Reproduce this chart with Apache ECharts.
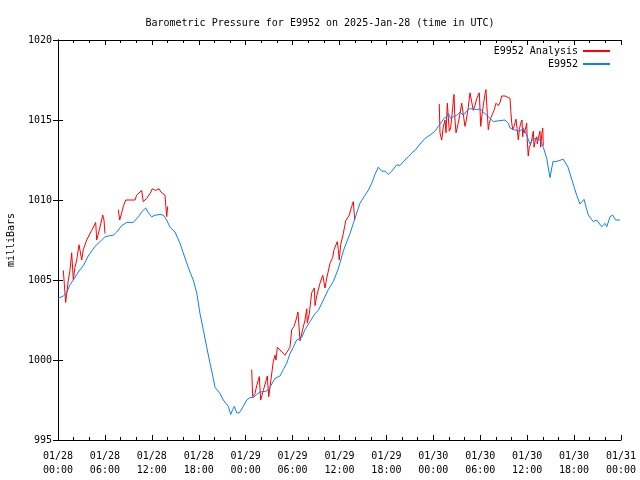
<!DOCTYPE html>
<html><head><meta charset="utf-8">
<script src="https://cdn.jsdelivr.net/npm/echarts@6/dist/echarts.min.js"></script>
<style>html,body{margin:0;padding:0;background:#fff}#c{width:640px;height:480px}</style>
</head><body><div id="c"></div>
<script>
// Hours since 2025-01-28 00:00 UTC
const seriesNames = ['E9952 Analysis', 'E9952'];
const yTicks = [995, 1000, 1005, 1010, 1015, 1020];

const stationHours = [0,0.68,0.9,1.11,1.53,1.96,2.6,3.24,3.87,4.73,5.59,6.01,6.43,7.07,7.51,8.15,8.79,9.63,10.27,10.78,11.22,11.55,11.98,12.41,13.04,13.47,13.9,14.32,14.96,15.6,16.15,16.88,17.3,17.74,18.16,18.58,19.02,19.44,19.86,20.08,20.3,20.72,21.14,21.78,22.09,22.34,22.55,22.85,23.19,23.7,24.13,24.55,24.97,25.41,25.83,26.69,27.11,27.75,28.39,28.81,29.25,29.67,30.09,30.52,31.17,31.59,32.23,32.87,33.29,33.93,34.57,35.2,35.85,36.49,36.7,37.34,37.98,38.62,39.26,39.68,40.12,40.54,40.96,41.4,41.82,42.24,42.68,43.32,43.74,44.16,44.8,45.36,45.66,46.3,46.94,47.58,48.21,48.64,49.07,49.37,49.71,49.92,50.22,50.55,50.99,51.41,51.83,52.34,52.6,53.11,53.55,53.97,54.39,54.83,55.25,55.67,56.31,57.17,57.59,57.81,58.23,59.08,59.51,59.94,60.36,60.79,61.22,61.64,62.06,62.5,62.92,63.3,63.69,64.62,65.22,65.99,66.33,66.76,67.27,67.62,67.82,68.46,68.9,69.53,69.96,70.18,70.6,70.94,71.32,71.87];
const stationPressure = [1003.85,1004.0,1003.9,1004.2,1004.7,1005.0,1005.5,1005.9,1006.5,1007.1,1007.5,1007.7,1007.75,1007.8,1008.0,1008.4,1008.6,1008.6,1008.95,1009.3,1009.5,1009.2,1008.95,1009.05,1009.1,1009.05,1008.75,1008.3,1008.0,1007.3,1006.5,1005.5,1005.0,1004.2,1002.9,1001.9,1000.8,999.8,998.85,998.3,998.4,997.9,997.5,997.1,996.6,996.9,997.1,996.7,996.7,997.1,997.5,997.65,997.65,997.85,998.0,998.06,998.3,998.85,999.0,999.4,999.8,1000.4,1000.8,1001.25,1001.4,1001.9,1002.4,1002.9,1003.1,1003.75,1004.4,1004.9,1005.7,1006.8,1007.1,1007.9,1008.85,1009.8,1010.3,1010.6,1011.05,1011.6,1012.05,1011.8,1011.8,1011.6,1011.8,1012.2,1012.15,1012.4,1012.7,1013.0,1013.1,1013.5,1013.85,1014.06,1014.3,1014.6,1014.9,1015.1,1015.2,1015.4,1015.1,1015.2,1015.3,1015.5,1015.3,1015.6,1015.7,1015.7,1015.65,1015.7,1015.5,1015.3,1015.1,1014.9,1014.95,1015.0,1014.8,1014.5,1014.4,1014.3,1014.5,1014.06,1013.5,1013.85,1013.85,1013.75,1013.3,1012.6,1011.4,1012.4,1012.4,1012.55,1012.06,1010.83,1010.3,1009.75,1010.04,1009.4,1009.06,1008.65,1008.75,1008.33,1008.54,1008.33,1008.96,1009.06,1008.75,1008.75];

// null pressure = gap in the analysis record
const analysisHours = [0.68,0.98,1.32,1.53,1.75,1.96,2.17,2.39,2.69,2.94,3.03,3.24,3.67,3.87,4.31,4.82,4.95,5.37,5.72,5.88,6.01,
  6.8,
  7.71,7.89,8.15,8.35,8.66,9.85,10.06,10.7,10.91,11.34,11.77,12.06,12.49,12.92,13.17,13.68,13.9,14.03,
  19.0,
  24.77,24.9,25.19,25.41,25.74,25.92,26.26,26.77,26.95,27.11,27.53,27.75,27.88,28.05,29.03,29.25,29.67,29.89,30.18,30.44,30.69,30.95,31.29,31.59,31.81,31.88,32.14,32.44,32.78,32.87,33.08,33.51,33.85,34.15,34.36,34.79,35.13,35.3,35.72,35.85,35.97,36.15,36.49,36.67,36.79,37.0,37.25,37.56,37.77,37.86,37.95,
  43.0,
  48.76,48.85,49.07,49.28,49.49,49.62,49.79,49.92,50.04,50.22,50.48,50.64,50.77,50.9,51.19,51.41,51.63,51.83,52.05,52.18,52.47,52.69,52.9,53.11,53.33,53.55,53.88,54.06,54.19,54.39,54.6,54.73,54.9,55.03,55.16,55.33,55.59,55.76,56.02,56.31,56.53,56.74,57.17,57.81,57.9,58.03,58.16,58.32,58.57,58.74,58.87,59.0,59.17,59.34,59.43,59.51,59.63,59.81,59.94,60.01,60.14,60.27,60.45,60.58,60.79,60.88,61.0,61.22,61.3,61.42,61.64,61.73,61.86,61.99,62.06];
const analysisPressure = [1005.6,1003.6,1005.0,1005.6,1006.7,1005.0,1005.8,1006.25,1007.2,1007.2,1006.25,1006.9,1007.5,1007.6,1008.1,1008.6,1007.5,1008.3,1009.06,1008.75,1007.9,
  null,
  1009.4,1008.75,1009.2,1009.6,1010.0,1010.0,1010.3,1010.6,1009.9,1010.1,1010.4,1010.7,1010.6,1010.7,1010.5,1010.3,1008.96,1009.6,
  null,
  999.4,997.7,997.9,998.4,998.96,997.5,998.1,999.0,997.7,998.3,999.9,1000.3,1000.0,1000.8,1000.3,1000.2,1000.8,1001.9,1002.1,1002.5,1003.0,1001.2,1001.9,1002.5,1003.2,1002.3,1002.9,1004.2,1004.5,1003.4,1004.0,1004.8,1005.3,1004.5,1005.1,1006.05,1006.4,1006.9,1007.4,1006.9,1006.25,1007.2,1007.9,1008.4,1008.7,1008.6,1009.06,1009.6,1009.9,1009.3,1008.75,
  null,
  1016.0,1014.2,1013.75,1014.6,1015.0,1014.2,1016.05,1016.05,1014.3,1014.5,1015.8,1016.6,1015.0,1014.2,1014.8,1015.4,1016.05,1016.05,1014.6,1014.9,1015.8,1016.7,1016.7,1015.6,1015.9,1016.35,1016.7,1014.6,1015.2,1015.9,1016.6,1016.9,1015.4,1014.4,1014.8,1015.1,1015.4,1015.6,1016.05,1015.9,1016.1,1016.5,1016.5,1016.35,1015.6,1014.8,1014.4,1014.6,1015.05,1015.1,1013.75,1014.4,1014.8,1015.0,1013.95,1014.4,1014.2,1014.5,1014.8,1013.75,1012.75,1013.3,1013.5,1013.75,1014.3,1013.3,1013.65,1013.95,1013.5,1013.85,1014.3,1013.3,1014.06,1014.5,1013.4];

const FONT = '"DejaVu Sans Mono", "Liberation Mono", monospace';
const pad = n => (n < 10 ? '0' : '') + n;
function timeLabel(v) {
  const day = 28 + Math.floor(v / 24);
  const hr = Math.round(v % 24);
  return '01/' + pad(day) + '\n' + pad(hr) + ':00';
}
const stationData = stationHours.map((h, i) => [h, stationPressure[i]]);
const analysisData = analysisHours.map((h, i) => [h, analysisPressure[i] === null ? '-' : analysisPressure[i]]);

const chart = echarts.init(document.getElementById('c'), null, {renderer: 'canvas'});
const axisLine = {show: true, lineStyle: {color: '#000', width: 1}};
chart.setOption({
  animation: false,
  backgroundColor: '#fff',
  title: {
    text: 'Barometric Pressure for E9952 on 2025-Jan-28 (time in UTC)',
    left: 'center', top: 13,
    textStyle: {fontFamily: FONT, fontSize: 10, fontWeight: 'normal', color: '#000'}
  },
  legend: {
    orient: 'vertical', right: 25, top: 41, align: 'right',
    itemWidth: 27, itemHeight: 2, itemGap: 3,
    textStyle: {fontFamily: FONT, fontSize: 10, color: '#000'},
    data: [{name: seriesNames[0], icon: 'rect'}, {name: seriesNames[1], icon: 'rect'}]
  },
  grid: {left: 58, right: 19, top: 40, bottom: 40, containLabel: false, outerBoundsMode: 'none'},
  xAxis: [{
    type: 'value', min: 0, max: 72, interval: 6, position: 'bottom',
    axisLine: axisLine,
    axisTick: {show: true, inside: true, length: 5, lineStyle: {color: '#000'}},
    minorTick: {show: true, splitNumber: 3, length: 3, lineStyle: {color: '#000'}},
    splitLine: {show: false},
    axisLabel: {formatter: timeLabel, fontFamily: FONT, fontSize: 10, color: '#000', lineHeight: 14, margin: 9}
  }, {
    type: 'value', min: 0, max: 72, interval: 6, position: 'top',
    axisLine: axisLine,
    axisTick: {show: true, inside: true, length: 5, lineStyle: {color: '#000'}},
    minorTick: {show: true, splitNumber: 3, length: 3, lineStyle: {color: '#000'}},
    splitLine: {show: false}, axisLabel: {show: false}
  }],
  yAxis: [{
    type: 'value', min: yTicks[0], max: yTicks[yTicks.length - 1], interval: 5, position: 'left',
    axisLine: axisLine,
    axisTick: {show: true, inside: true, length: 5, lineStyle: {color: '#000'}},
    splitLine: {show: false},
    axisLabel: {formatter: v => String(v), fontFamily: FONT, fontSize: 10, color: '#000', margin: 6},
    name: 'milliBars', nameLocation: 'middle', nameRotate: 90, nameGap: 42,
    nameTextStyle: {fontFamily: FONT, fontSize: 10, color: '#000'}
  }, {
    type: 'value', min: yTicks[0], max: yTicks[yTicks.length - 1], interval: 5, position: 'right',
    axisLine: axisLine,
    axisTick: {show: true, inside: true, length: 5, lineStyle: {color: '#000'}},
    splitLine: {show: false}, axisLabel: {show: false}
  }],
  series: [{
    name: seriesNames[0], type: 'line', data: analysisData, xAxisIndex: 0, yAxisIndex: 0,
    showSymbol: false, symbol: 'none', connectNulls: false,
    color: '#ff0000', lineStyle: {color: '#ff0000', width: 1}
  }, {
    name: seriesNames[1], type: 'line', data: stationData, xAxisIndex: 0, yAxisIndex: 0,
    showSymbol: false, symbol: 'none',
    color: '#0a80ff', lineStyle: {color: '#0a80ff', width: 1}
  }]
});
</script></body></html>
